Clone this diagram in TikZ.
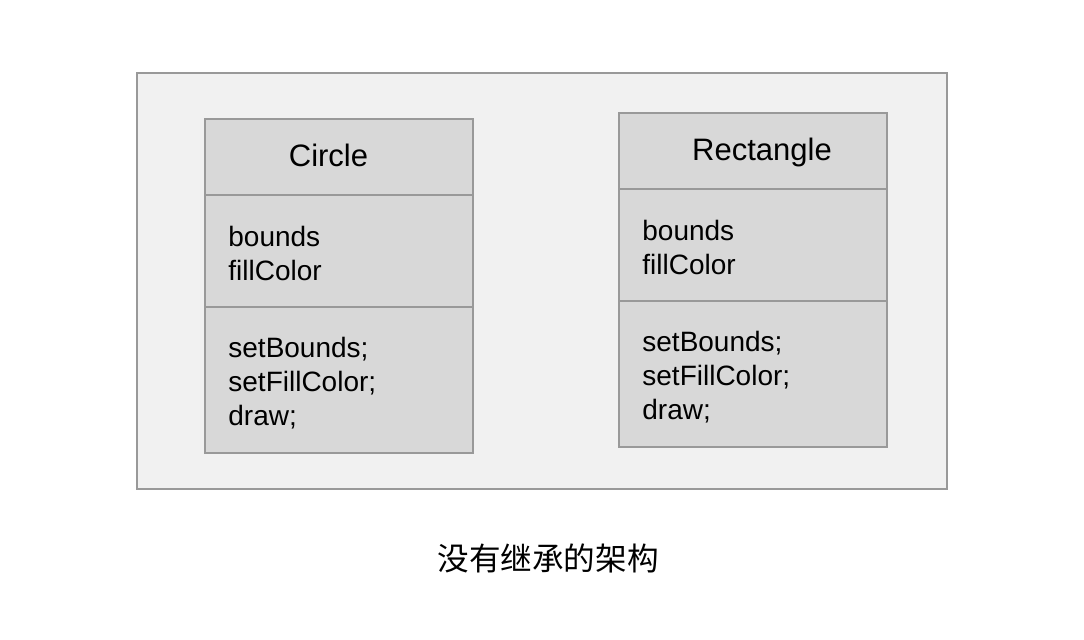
\documentclass[tikz,border=0pt]{standalone}
\usepackage{fontspec}
\setmainfont{Liberation Sans}
\newfontfamily\cjk{Noto Sans CJK SC}
\usetikzlibrary{positioning}
\definecolor{framefill}{HTML}{F1F1F1}
\definecolor{boxfill}{HTML}{D8D8D8}
\definecolor{edgegray}{HTML}{999999}
\begin{document}
\begin{tikzpicture}[x=0.5pt, y=-0.5pt, node distance=0pt,
    part/.style={draw=edgegray, fill=boxfill, line width=1pt, minimum width=134pt, inner sep=0pt, outer sep=0pt},
    title/.style={font=\fontsize{15.5}{18}\selectfont, inner sep=0pt, anchor=base},
    members/.style={font=\fontsize{14}{17}\selectfont, align=left, inner sep=0pt, anchor=base west}]
    \useasboundingbox (0,0) rectangle (1084,640);
    \node[draw=edgegray, fill=framefill, line width=1pt, minimum width=405pt, minimum height=208pt, inner sep=0pt] (frame) at (542,281) {};

    % Circle
    \node[part, minimum height=38pt, anchor=north] (circhead) at (339,119) {};
    \node[part, minimum height=56pt, below=of circhead] (circattr) {};
    \node[part, minimum height=73pt, below=of circattr] (circops) {};
    \node[title] (circname) at (328.5,167) {Circle};
    \node[members] (circfields) at (228,281) {bounds\\fillColor};
    \node[members] (circmethods) at (228,426) {setBounds;\\setFillColor;\\draw;};

    % Rectangle
    \node[part, minimum height=38pt, anchor=north] (recthead) at (753,113) {};
    \node[part, minimum height=56pt, below=of recthead] (rectattr) {};
    \node[part, minimum height=73pt, below=of rectattr] (rectops) {};
    \node[title] (rectname) at (762,161) {Rectangle};
    \node[members] (rectfields) at (642,275) {bounds\\fillColor};
    \node[members] (rectmethods) at (642,420) {setBounds;\\setFillColor;\\draw;};

    \node[font=\cjk\fontsize{15.8}{18}\selectfont] (caption) at (548,558) {没有继承的架构};
\end{tikzpicture}
\end{document}
